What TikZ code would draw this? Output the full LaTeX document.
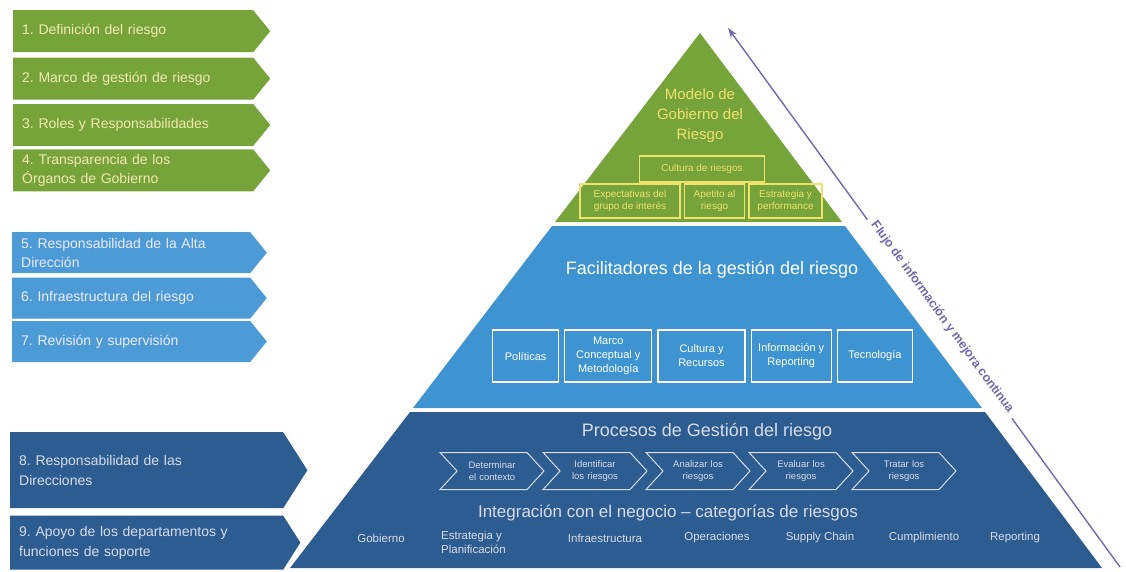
\documentclass[tikz,border=0pt]{standalone}
\usepackage{fontspec}
\setmainfont{Liberation Sans}
\usetikzlibrary{arrows.meta, positioning, shapes.symbols}
\frenchspacing

\definecolor{riskgreen}{RGB}{118,163,58}
\definecolor{risklight}{RGB}{62,148,208}
\definecolor{tagblue}{RGB}{76,154,214}
\definecolor{riskdark}{RGB}{45,92,145}
\definecolor{riskyellow}{RGB}{240,226,110}
\definecolor{paleyellow}{RGB}{242,234,176}
\definecolor{softgray}{RGB}{214,220,234}
\definecolor{flowpurple}{RGB}{110,106,174}

\begin{document}
\begin{tikzpicture}[x=1pt, y=-1pt,
                tag/.style={signal, signal to=east, signal pointer angle=102,
                    align=left, inner xsep=9pt, inner ysep=0pt},
                greentag/.style={tag, fill=riskgreen, text=paleyellow, text width=222pt,
                    minimum height=42pt, font=\fontsize{14}{19}\selectfont},
                bluetag/.style={tag, fill=tagblue, text=white!92!blue, text width=220pt,
                    minimum height=41pt, font=\fontsize{14}{19}\selectfont},
                darktag/.style={tag, fill=riskdark, text=softgray, text width=255pt,
                    signal pointer angle=115, font=\fontsize{14}{20}\selectfont},
                ybox/.style={draw=riskyellow, line width=1.5pt, text=riskyellow, align=center,
                    inner sep=1pt, font=\fontsize{10}{12}\selectfont},
                wbox/.style={draw=white, line width=1.2pt, text=white, align=center,
                    inner sep=2pt, minimum height=52pt, font=\fontsize{11}{14}\selectfont},
                chev/.style={signal, signal from=west, signal to=east, signal pointer angle=95,
                    draw=softgray, line width=1pt, text=softgray, align=center, text width=66pt,
                    inner sep=2pt, minimum height=37pt, font=\fontsize{9.5}{12}\selectfont},
                cat/.style={text=softgray, inner sep=0pt, font=\fontsize{11.5}{14}\selectfont},
                flowline/.style={-{Stealth[length=10pt, width=7pt]}, flowpurple, line width=1.4pt},
                flowtext/.style={fill=white, text=flowpurple, inner xsep=6pt,
                    font=\bfseries\fontsize{12.5}{14}\selectfont}]
                \useasboundingbox (0,0) rectangle (1126,571);

                % Left tags - green group
                \node[greentag, anchor=north west] (defin) at (13,10) {1. Definición del riesgo};
                \node[greentag, below=5pt of defin] (marco) {2. Marco de gestión de riesgo};
                \node[greentag, below=4pt of marco] (roles) {3. Roles y Responsabilidades};
                \node[greentag, below=3pt of roles] (transp) {4. Transparencia de los\\Órganos de Gobierno};

                % Left tags - light blue group
                \node[bluetag, anchor=north west] (altadir) at (12,232) {5. Responsabilidad de la Alta\\Dirección};
                \node[bluetag, below=4pt of altadir] (infra) {6. Infraestructura del riesgo};
                \node[bluetag, below=2pt of infra] (revis) {7. Revisión y supervisión};

                % Left tags - dark blue group
                \node[darktag, anchor=north west, minimum height=76pt] (direcc) at (10,432) {8. Responsabilidad de las\\Direcciones};
                \node[darktag, below=7pt of direcc, minimum height=54pt] (apoyo) {9. Apoyo de los departamentos y\\funciones de soporte};

                % Pyramid layers
                \fill[riskgreen] (700,33) -- (842,222) -- (555,222) -- cycle;
                \fill[risklight] (552,226) -- (845,226) -- (982,408) -- (413,408) -- cycle;
                \fill[riskdark] (410,412) -- (985,412) -- (1102,568) -- (290,568) -- cycle;

                % Top layer
                \node[text=riskyellow, align=center, font=\fontsize{15}{20}\selectfont] (modelo) at (700,116) {Modelo de\\Gobierno del\\Riesgo};
                \node[ybox, minimum width=125pt, minimum height=26pt] (cultura) at (702,169) {Cultura de riesgos};
                \node[ybox, minimum width=100pt, minimum height=34pt] (expect) at (630,201) {Expectativas del\\grupo de interés};
                \node[ybox, minimum width=60pt, minimum height=34pt, right=3pt of expect] (apetito) {Apetito al\\riesgo};
                \node[ybox, minimum width=73pt, minimum height=34pt, right=3pt of apetito] (estrat) {Estrategia y\\performance};

                % Middle layer
                \node[text=white, font=\fontsize{18}{22}\selectfont] (facil) at (712,270) {Facilitadores de la gestión del riesgo};
                \node[wbox, minimum width=66pt, anchor=west] (polit) at (492,356) {Políticas};
                \node[wbox, minimum width=87pt, right=5pt of polit] (marcoc) {Marco\\Conceptual y\\Metodología};
                \node[wbox, minimum width=87pt, right=5pt of marcoc] (cultrec) {Cultura y\\Recursos};
                \node[wbox, minimum width=80pt, right=5pt of cultrec] (inform) {Información y\\Reporting};
                \node[wbox, minimum width=75pt, right=5pt of inform] (tecno) {Tecnología};

                % Bottom layer
                \node[text=softgray, font=\fontsize{18}{22}\selectfont] (procesos) at (707,432) {Procesos de Gestión del riesgo};
                \node[chev] (contexto) at (492,471) {Determinar\\el contexto};
                \node[chev] (identif) at (595,471) {Identificar\\los riesgos};
                \node[chev] (analiz) at (698,471) {Analizar los\\riesgos};
                \node[chev] (evalua) at (801,471) {Evaluar los\\riesgos};
                \node[chev] (tratar) at (904,471) {Tratar los\\riesgos};

                \node[text=softgray, font=\fontsize{17}{20}\selectfont] (integra) at (668,513) {Integración con el negocio – categorías de riesgos};
                \node[cat] (gobierno) at (381,538) {Gobierno};
                \node[cat, anchor=north west, align=left] (planif) at (441,531) {Estrategia y\\Planificación};
                \node[cat] (infraest) at (605,538) {Infraestructura};
                \node[cat] (operac) at (717,538) {Operaciones};
                \node[cat] (supply) at (820,538) {Supply Chain};
                \node[cat] (cumpl) at (924,538) {Cumplimiento};
                \node[cat] (report) at (1015,538) {Reporting};

                % Flow arrow along the right side
                \coordinate (flowbot) at (1120,567);
                \coordinate (flowtop) at (728,28);
                \draw[flowline] (flowbot) -- node[flowtext, pos=0.46, sloped, yshift=3pt] (flowlbl) {Flujo de información y mejora continua} (flowtop);
\end{tikzpicture}
\end{document}
